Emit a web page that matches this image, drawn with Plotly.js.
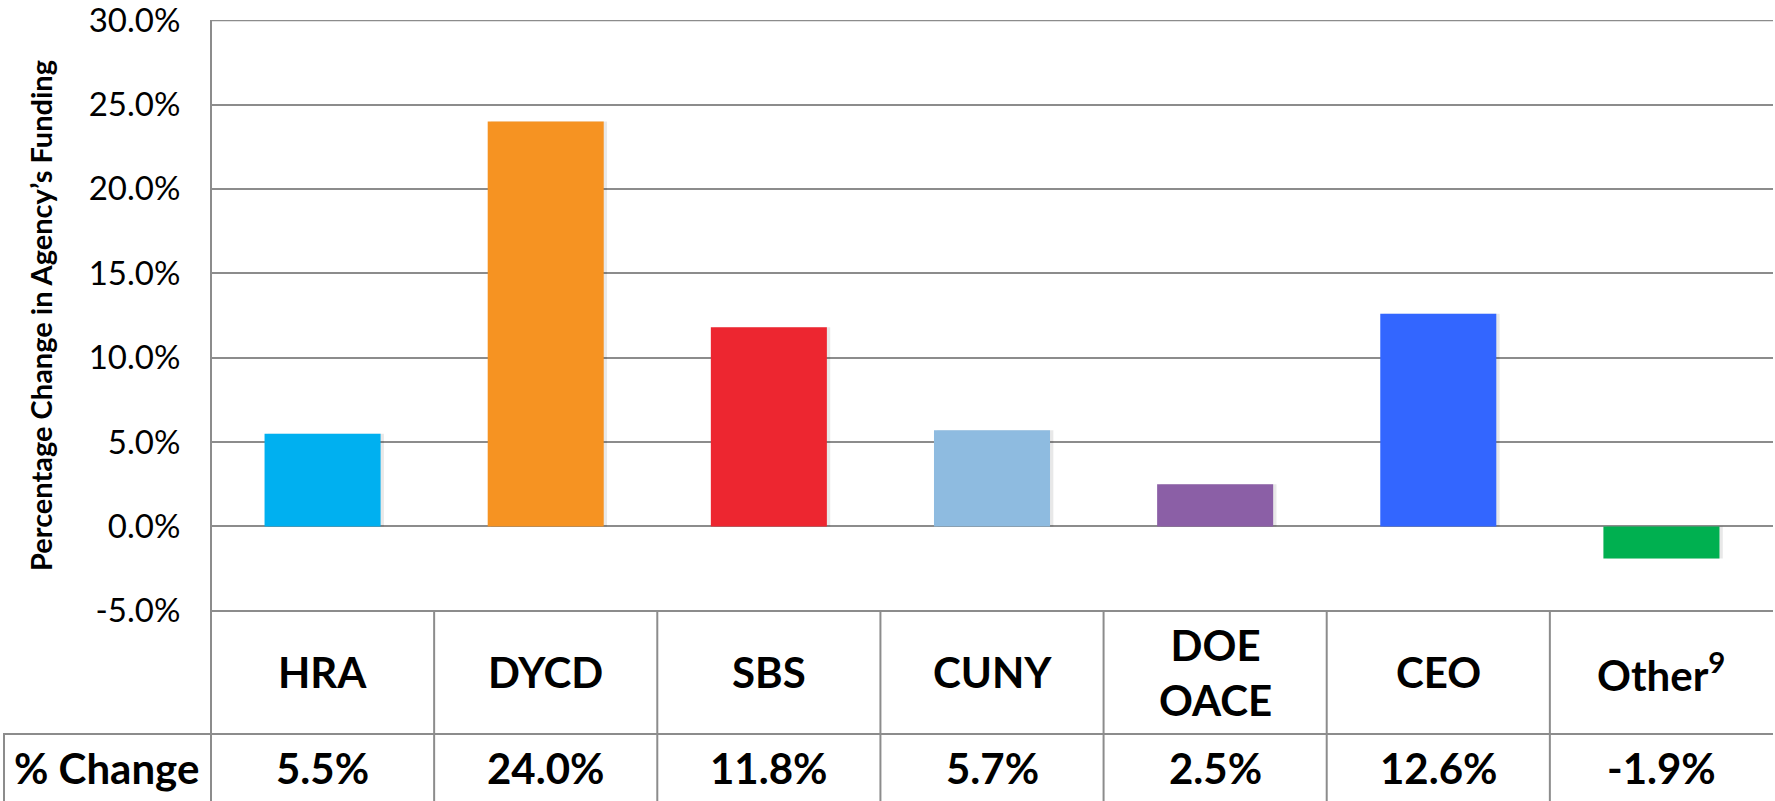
<!DOCTYPE html>
<html>
<head>
<meta charset="utf-8">
<script src="https://cdn.plot.ly/plotly-3.0.1.min.js"></script>
<style>
html,body{margin:0;padding:0;background:#fff;}
#chart{width:1775px;height:801px;}
</style>
</head>
<body>
<div id="chart"></div>
<script>
// ---- data ----
var categories = ["HRA", "DYCD", "SBS", "CUNY", "DOE<br>OACE", "CEO", "Other<sup>9</sup>"];
var pctChange = [5.5, 24.0, 11.8, 5.7, 2.5, 12.6, -1.9];
var barColors = ["#00B0F0", "#F69322", "#ED2630", "#8EBBE0", "#8B5FA6", "#3366FF", "#00B050"];
var yTickVals = [-5, 0, 5, 10, 15, 20, 25, 30];
var yTickText = ["-5.0%", "0.0%", "5.0%", "10.0%", "15.0%", "20.0%", "25.0%", "30.0%"];
var rowLabel = "% Change";
var yTitle = "Percentage Change in Agency\u2019s Funding";

var W = 1775, H = 801;
var mL = 211, mR = 2, mT = 20, mB = 190;
var plotH = H - mT - mB;
var plotW = W - mL - mR;
function py(pix){ return -(pix - (H - mB)) / plotH; } // pixel y below plot -> paper y
function px(pix){ return (pix - mL) / plotW; }

var gridCol = "#8c8c8c";
var xIdx = categories.map(function(_, i){ return i; });

var traces = [
  { // soft shadow
    type: "bar", x: xIdx, y: pctChange, width: 0.52, offset: -0.245,
    marker: {color: "rgba(0,0,0,0.09)", line: {width: 0}},
    hoverinfo: "skip", showlegend: false
  },
  {
    type: "bar", x: xIdx, y: pctChange, width: 0.52,
    marker: {color: barColors, line: {width: 0}},
    showlegend: false
  }
];

var shapes = [];
var annotations = [];
var txtFont = {family: "Lato, 'Open Sans', sans-serif", size: 42, color: "#000", weight: 700};

// left axis line (extends through the table)
shapes.push({type: "line", xref: "paper", yref: "paper", x0: 0, x1: 0, y0: 1, y1: py(H), line: {color: gridCol, width: 2}});
// top gridline (30%)
shapes.push({type: "line", xref: "paper", yref: "y", x0: 0, x1: 1, y0: yTickVals[yTickVals.length - 1], y1: yTickVals[yTickVals.length - 1], line: {color: gridCol, width: 2}});
// table horizontal lines
shapes.push({type: "line", xref: "paper", yref: "paper", x0: 0, x1: 1, y0: 0, y1: 0, line: {color: gridCol, width: 2}});
shapes.push({type: "line", xref: "paper", yref: "paper", x0: px(3), x1: 1, y0: py(734), y1: py(734), line: {color: gridCol, width: 2}});
// row label left border
shapes.push({type: "line", xref: "paper", yref: "paper", x0: px(4), x1: px(4), y0: py(734), y1: py(H), line: {color: gridCol, width: 2}});
// column separators
for (var i = 0; i < categories.length - 1; i++) {
  shapes.push({type: "line", xref: "x", yref: "paper", x0: i + 0.5, x1: i + 0.5, y0: 0, y1: py(H), line: {color: gridCol, width: 2}});
}

categories.forEach(function(c, i){
  annotations.push({xref: "x", yref: "paper", x: i, y: py(672), text: c, showarrow: false,
    font: txtFont, xanchor: "center", yanchor: "middle"});
  annotations.push({xref: "x", yref: "paper", x: i, y: py(768), text: pctChange[i].toFixed(1) + "%", showarrow: false,
    font: txtFont, xanchor: "center", yanchor: "middle"});
});
annotations.push({xref: "paper", yref: "paper", x: px(106), y: py(768), text: rowLabel, showarrow: false,
  font: txtFont, xanchor: "center", yanchor: "middle"});

var layout = {
  width: W, height: H,
  margin: {l: mL, r: mR, t: mT, b: mB, pad: 0},
  paper_bgcolor: "#fff", plot_bgcolor: "#fff",
  barmode: "overlay",
  xaxis: {
    range: [-0.5, categories.length - 0.5],
    showticklabels: false, showgrid: false, zeroline: false, showline: false, fixedrange: true
  },
  yaxis: {
    range: [-5.01, 30.01],
    tickvals: yTickVals, ticktext: yTickText,
    showgrid: true, gridcolor: gridCol, gridwidth: 2,
    zeroline: false, showline: false,
    ticks: "outside", ticklen: 23, tickcolor: "rgba(0,0,0,0)",
    ticklabeloverflow: "allow",
    tickfont: {family: "Lato, 'Open Sans', sans-serif", size: 33, color: "#000"},
    title: {text: yTitle, font: {family: "Lato, 'Open Sans', sans-serif", size: 29, color: "#000", weight: 700}, standoff: 27},
    automargin: false, fixedrange: true
  },
  shapes: shapes,
  annotations: annotations,
  showlegend: false
};

Plotly.newPlot("chart", traces, layout, {displayModeBar: false, staticPlot: true});
</script>
</body>
</html>
